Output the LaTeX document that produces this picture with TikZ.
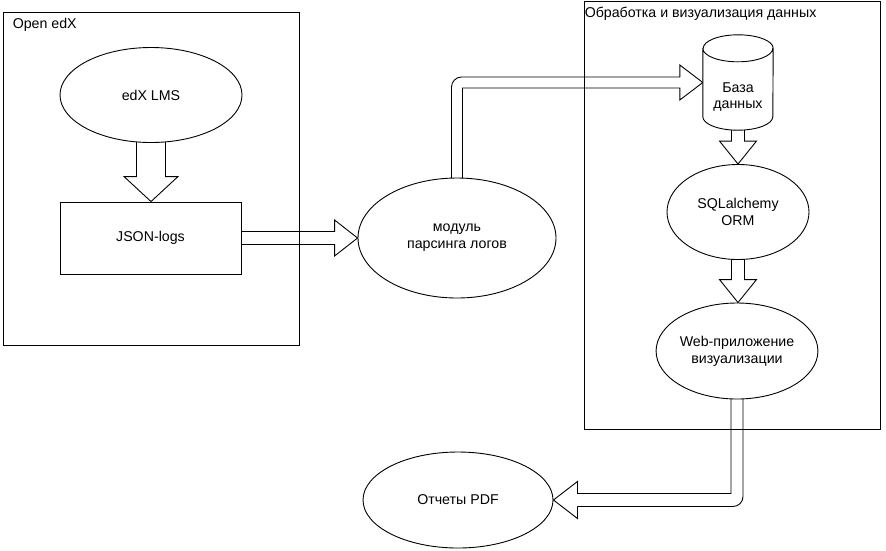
\documentclass[tikz,border=0pt]{standalone}
\usepackage{fontspec}
\setmainfont{Liberation Sans}
\usetikzlibrary{shapes.geometric,calc,backgrounds}

\tikzset{
  every node/.style={font=\fontsize{14.2}{16.8}\selectfont, align=center},
  frame/.style={draw, line width=0.9pt, inner sep=0pt},
  caption/.style={anchor=base west, inner sep=0pt},
  oval/.style={ellipse, draw, fill=white, line width=0.9pt, inner sep=0pt},
  box/.style={rectangle, draw, fill=white, line width=0.9pt},
  area/.style={inner sep=0pt},
  blockline/.style={draw, line width=0.9pt, line join=miter},
}

% hollow block arrows: #3 half shaft, #4 half head, #5 head length
\newcommand{\downblock}[5]{%
  \draw[blockline] let \p1=(#1.center), \p2=(#2.north) in
    (\x1-#3pt,\y1) -- (\x1-#3pt,\y2+#5pt) -- (\x1-#4pt,\y2+#5pt) -- (\x1,\y2)
    -- (\x1+#4pt,\y2+#5pt) -- (\x1+#3pt,\y2+#5pt) -- (\x1+#3pt,\y1);}
\newcommand{\rightblock}[5]{%
  \draw[blockline] let \p1=(#1.center), \p2=(#2.west) in
    (\x1,\y1+#3pt) -- (\x2-#5pt,\y1+#3pt) -- (\x2-#5pt,\y1+#4pt) -- (\x2,\y1)
    -- (\x2-#5pt,\y1-#4pt) -- (\x2-#5pt,\y1-#3pt) -- (\x1,\y1-#3pt);}

\begin{document}
\begin{tikzpicture}[x=1pt,y=-1pt]
\useasboundingbox (0,0) rectangle (886,550);

% containers
\node[frame, minimum width=296pt, minimum height=333pt] (edx) at (151,178.5) {};
\node[caption] (edxlabel) at ($(edx.north west)+(10pt,-17pt)$) {Open edX};
\node[frame, minimum width=296pt, minimum height=428pt] (proc) at (732,215) {};
\node[caption] (proclabel) at ($(proc.north west)+(1pt,-17pt)$) {Обработка и визуализация данных};

% blocks
\node[oval, minimum width=182pt, minimum height=95pt] (lms) at (151,95) {edX LMS};
\node[box, minimum width=181pt, minimum height=72pt] (json) at (150.5,238) {JSON-logs};
\node[oval, minimum width=198pt, minimum height=120pt] (parser) at (457,238) {модуль\\парсинга логов};
\node[area, minimum width=70pt, minimum height=95pt] (db) at (738,82.5) {};
\draw[line width=0.9pt, fill=white] let \p1=(db.north west), \p2=(db.south east) in
  (\x1,\y1-13.5pt) -- (\x1,\y2+13.5pt) arc[start angle=180, end angle=360, x radius=35pt, y radius=13.5pt]
  -- (\x2,\y1-13.5pt) arc[start angle=0, end angle=180, x radius=35pt, y radius=13.5pt] -- cycle
  (\x1,\y1-13.5pt) arc[start angle=180, end angle=360, x radius=35pt, y radius=13.5pt];
\node (dblabel) at ($(db.center)+(0,-14.5pt)$) {База\\данных};
\node[oval, minimum width=142pt, minimum height=95pt] (orm) at (738,212) {SQLalchemy\\ORM};
\node[oval, minimum width=142pt, minimum height=96pt] (web) at (737,351) {Web-приложение\\визуализации};
\node[oval, minimum width=190pt, minimum height=96pt] (pdf) at (458,500) {Отчеты PDF};

% arrows
\begin{scope}[on background layer]
\downblock{lms}{json}{14.5}{27}{25}
\rightblock{json}{parser}{6.5}{18}{23}
\draw[blockline] let \p1=(parser.center), \p2=(db.west) in
  [rounded corners=10pt] (\x1-5.5pt,\y1) -- (\x1-5.5pt,\y2+5.5pt) -- (\x2-23pt,\y2+5.5pt)
  [sharp corners] (\x2-23pt,\y2+5.5pt) -- (\x2-23pt,\y2+17.5pt) -- (\x2,\y2)
  -- (\x2-23pt,\y2-17.5pt) -- (\x2-23pt,\y2-5.5pt) -- (\x1+5.5pt,\y2-5.5pt) -- (\x1+5.5pt,\y1);
\downblock{db}{orm}{6.5}{18.5}{23}
\downblock{orm}{web}{6.5}{18.5}{23}
\draw[blockline] let \p1=(web.center), \p2=(pdf.east) in
  [rounded corners=10pt] (\x1+6pt,\y1) -- (\x1+6pt,\y2-6.5pt) -- (\x2+24pt,\y2-6.5pt)
  [sharp corners] (\x2+24pt,\y2-6.5pt) -- (\x2+24pt,\y2-18.5pt) -- (\x2,\y2)
  -- (\x2+24pt,\y2+18.5pt) -- (\x2+24pt,\y2+6.5pt) -- (\x1-6pt,\y2+6.5pt) -- (\x1-6pt,\y1);
\end{scope}
\end{tikzpicture}
\end{document}
